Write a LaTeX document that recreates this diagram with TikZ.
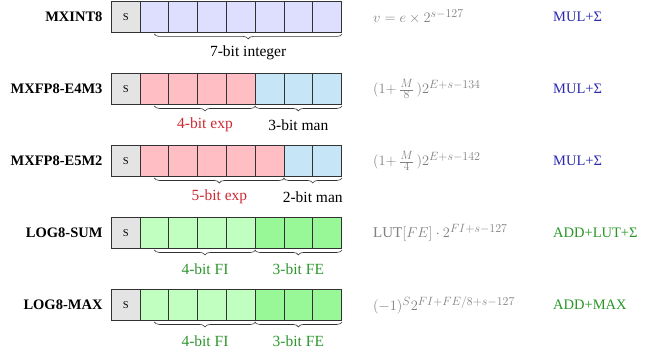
\documentclass[tikz,border=0pt]{standalone}
\usepackage{fontspec}
\setmainfont{Liberation Serif}
\usetikzlibrary{decorations.pathreplacing}
% larger exponents in the formula column
\DeclareMathSizes{15}{15}{12}{9}

\definecolor{sfill}{RGB}{228,228,228}
\definecolor{intfill}{RGB}{222,222,255}
\definecolor{expfill}{RGB}{255,190,196}
\definecolor{manfill}{RGB}{198,230,248}
\definecolor{fifill}{RGB}{192,255,192}
\definecolor{fefill}{RGB}{152,248,152}
\definecolor{edge}{RGB}{50,50,50}
\definecolor{fmla}{RGB}{128,128,128}
\definecolor{opblue}{RGB}{40,40,175}
\definecolor{opgreen}{RGB}{40,150,40}
\definecolor{lblred}{RGB}{205,40,50}
\definecolor{lblgreen}{RGB}{45,150,45}

\tikzset{
  cell/.style={draw=edge, line width=0.9pt, minimum width=28.8pt, minimum height=31pt,
    inner sep=0pt, anchor=west},
  sbox/.style={cell, fill=sfill, minimum width=28.5pt, font=\fontsize{10.5}{12}\selectfont},
  rowname/.style={anchor=east, font=\fontsize{14.5}{17}\selectfont\bfseries},
  brc/.style={draw=edge, line width=0.6pt, decorate,
    decoration={brace, mirror, amplitude=5pt, raise=1pt}},
  lbl/.style={font=\fontsize{15.5}{18}\selectfont, yshift=-20pt, inner sep=0pt},
  fml/.style={anchor=west, text=fmla, font=\fontsize{15}{18}\selectfont, inner sep=0pt},
  op/.style={anchor=west, font=\fontsize{14.5}{17}\selectfont, inner sep=0pt},
}

\begin{document}
\begin{tikzpicture}[x=1pt, y=-1pt]
\useasboundingbox (0,0) rectangle (652,353);

% ---- MXINT8 ----
\node[rowname] (n1) at (106,17) {MXINT8};
\node[sbox] (r1s) at (111,17) {S};
\foreach \i in {1,...,7}
  \node[cell, fill=intfill] (r1c\i) at ({139.5+28.8*(\i-1)},17) {};
\draw[brc] (r1c1.south) -- (r1c7.south east) node[lbl, midway] (l1) {7-bit integer};
\node[fml] (f1) at (373,17) {$v = e \times 2^{s-127}$};
\node[op, text=opblue] (o1) at (553,17) {MUL+Σ};

% ---- MXFP8-E4M3 ----
\node[rowname] (n2) at (106,89) {MXFP8-E4M3};
\node[sbox] (r2s) at (111,89) {S};
\foreach \i/\c in {1/expfill,2/expfill,3/expfill,4/expfill,5/manfill,6/manfill,7/manfill}
  \node[cell, fill=\c] (r2c\i) at ({139.5+28.8*(\i-1)},89) {};
\draw[brc] (r2c1.south) -- (r2c4.south east) node[lbl, midway, text=lblred] (l2a) {4-bit exp};
\draw[brc] (r2c5.south west) -- (r2c7.south east) node[lbl, midway] (l2b) {3-bit man};
\node[fml] (f2) at (373,89) {$(1{+}\,\frac{M}{8}\,)2^{E+s-134}$};
\node[op, text=opblue] (o2) at (553,89) {MUL+Σ};

% ---- MXFP8-E5M2 ----
\node[rowname] (n3) at (106,161) {MXFP8-E5M2};
\node[sbox] (r3s) at (111,161) {S};
\foreach \i/\c in {1/expfill,2/expfill,3/expfill,4/expfill,5/expfill,6/manfill,7/manfill}
  \node[cell, fill=\c] (r3c\i) at ({139.5+28.8*(\i-1)},161) {};
\draw[brc] (r3c1.south) -- (r3c5.south east) node[lbl, midway, text=lblred] (l3a) {5-bit exp};
\draw[brc] (r3c6.south west) -- (r3c7.south east) node[lbl, midway] (l3b) {2-bit man};
\node[fml] (f3) at (373,161) {$(1{+}\,\frac{M}{4}\,)2^{E+s-142}$};
\node[op, text=opblue] (o3) at (553,161) {MUL+Σ};

% ---- LOG8-SUM ----
\node[rowname] (n4) at (106,233) {LOG8-SUM};
\node[sbox] (r4s) at (111,233) {S};
\foreach \i/\c in {1/fifill,2/fifill,3/fifill,4/fifill,5/fefill,6/fefill,7/fefill}
  \node[cell, fill=\c] (r4c\i) at ({139.5+28.8*(\i-1)},233) {};
\draw[brc] (r4c1.south) -- (r4c4.south east) node[lbl, midway, text=lblgreen] (l4a) {4-bit FI};
\draw[brc] (r4c5.south west) -- (r4c7.south east) node[lbl, midway, text=lblgreen] (l4b) {3-bit FE};
\node[fml] (f4) at (373,233) {$\mathrm{LUT}[FE]\cdot 2^{FI+s-127}$};
\node[op, text=opgreen] (o4) at (553,233) {ADD+LUT+Σ};

% ---- LOG8-MAX ----
\node[rowname] (n5) at (106,305) {LOG8-MAX};
\node[sbox] (r5s) at (111,305) {S};
\foreach \i/\c in {1/fifill,2/fifill,3/fifill,4/fifill,5/fefill,6/fefill,7/fefill}
  \node[cell, fill=\c] (r5c\i) at ({139.5+28.8*(\i-1)},305) {};
\draw[brc] (r5c1.south) -- (r5c4.south east) node[lbl, midway, text=lblgreen] (l5a) {4-bit FI};
\draw[brc] (r5c5.south west) -- (r5c7.south east) node[lbl, midway, text=lblgreen] (l5b) {3-bit FE};
\node[fml] (f5) at (373,305) {$(-1)^S 2^{FI+FE/8+s-127}$};
\node[op, text=opgreen] (o5) at (553,305) {ADD+MAX};
\end{tikzpicture}
\end{document}
